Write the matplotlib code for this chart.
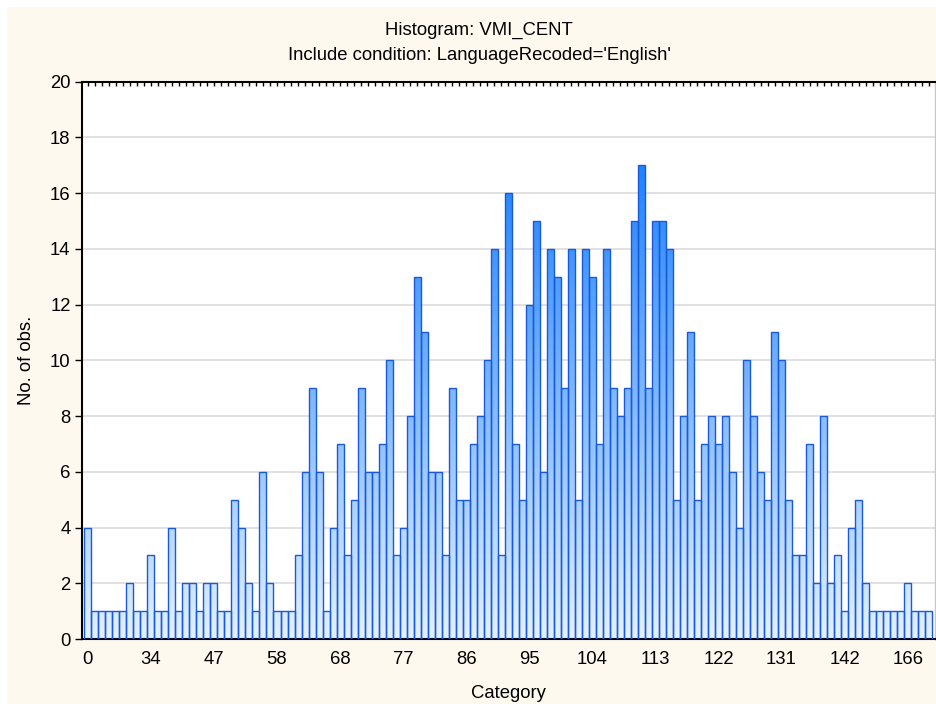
import numpy as np
import matplotlib
matplotlib.use('Agg')
import matplotlib.pyplot as plt
from matplotlib.colors import LinearSegmentedColormap
from matplotlib.path import Path
from matplotlib.patches import PathPatch, Rectangle

# observed counts per category, left to right
counts = [4, 1, 1, 1, 1, 1, 2, 1, 1, 3, 1, 1, 4, 1, 2, 2, 1, 2, 2, 1,
          1, 5, 4, 2, 1, 6, 2, 1, 1, 1,
          3, 6, 9, 6, 1, 4, 7, 3, 5, 9, 6, 6, 7, 10, 3, 4, 8, 13, 11, 6,
          6, 3, 9, 5, 5, 7, 8, 10, 14, 3,
          16, 7, 5, 12, 15, 6, 14, 13, 9, 14, 5, 14, 13, 7, 14, 9, 8, 9, 15, 17,
          9, 15, 15, 14, 5, 8, 11, 5, 7, 8,
          7, 8, 6, 4, 10, 8, 6, 5, 11, 10, 5, 3, 3, 7, 2, 8, 2, 3, 1, 4,
          5, 2, 1, 1, 1, 1, 1, 2, 1, 1, 1]
tick_labels = ['0', '34', '47', '58', '68', '77', '86', '95', '104', '113',
               '122', '131', '142', '166']
label_every = 9

plt.rcParams['font.family'] = ['Liberation Sans', 'DejaVu Sans']
fs = 13.3

fig = plt.figure(figsize=(9.36, 7.04), dpi=100, facecolor='white')
fig.patches.append(Rectangle((7 / 936, 0), 1, 697 / 704, transform=fig.transFigure,
                             facecolor='#fdf9ef', edgecolor='none', zorder=-10))
ax = fig.add_axes([81.7 / 936, 65 / 704, (935 - 81.7) / 936, (639 - 81.7) / 704])
ax.set_facecolor('white')

x = np.arange(len(counts))
bars = ax.bar(x, counts, width=1.0, facecolor='none', edgecolor='#1a5ad8',
              linewidth=1.0, zorder=3)

# vertical gradient fill clipped to the bars
cmap = LinearSegmentedColormap.from_list('grad', ['#e3f1ff', '#1e82ff'])
grad = np.linspace(0, 20, 256).reshape(-1, 1)
img = ax.imshow(grad, extent=[-1, len(counts) + 1, 0, 20], origin='lower',
                aspect='auto', cmap=cmap, vmin=0, vmax=17, zorder=2)
paths = [b.get_path().transformed(b.get_patch_transform()) for b in bars]
clip = PathPatch(Path.make_compound_path(*paths), transform=ax.transData,
                 facecolor='none', edgecolor='none')
img.set_clip_path(clip)

ax.set_xlim(-0.87, len(counts) - 0.1)
ax.set_ylim(0, 20)
ax.set_yticks(range(0, 21, 2))
ax.yaxis.grid(True, color='#dcdcdc', linewidth=1.2)
ax.set_axisbelow(True)

ax.set_xticks(x[::label_every])
ax.set_xticklabels(tick_labels, fontsize=fs)
ax.set_xticks(x, minor=True)
ax.tick_params(axis='x', which='both', direction='in', top=True, length=3,
               width=1, pad=9)
ax.tick_params(axis='y', direction='out', length=5, width=1, right=True,
               labelsize=fs, pad=3)

for s in ['left', 'top', 'bottom']:
    ax.spines[s].set_linewidth(1.5)
    ax.spines[s].set_color('black')
ax.spines['right'].set_color('#c8c8c8')
ax.spines['right'].set_linewidth(1)

fig.text(479 / 936, 1 - 34.5 / 704, 'Histogram: VMI_CENT', ha='center',
         va='baseline', fontsize=fs)
fig.text(479 / 936, 1 - 60 / 704, "Include condition: LanguageRecoded='English'",
         ha='center', va='baseline', fontsize=fs)
fig.text(508 / 936, 1 - 698 / 704, 'Category', ha='center', va='baseline',
         fontsize=fs)
fig.text(27 / 936, 1 - 360 / 704, 'No. of obs.', ha='center', va='center',
         rotation=90, fontsize=fs)

fig.savefig('out.png', dpi=100, facecolor=fig.get_facecolor())
